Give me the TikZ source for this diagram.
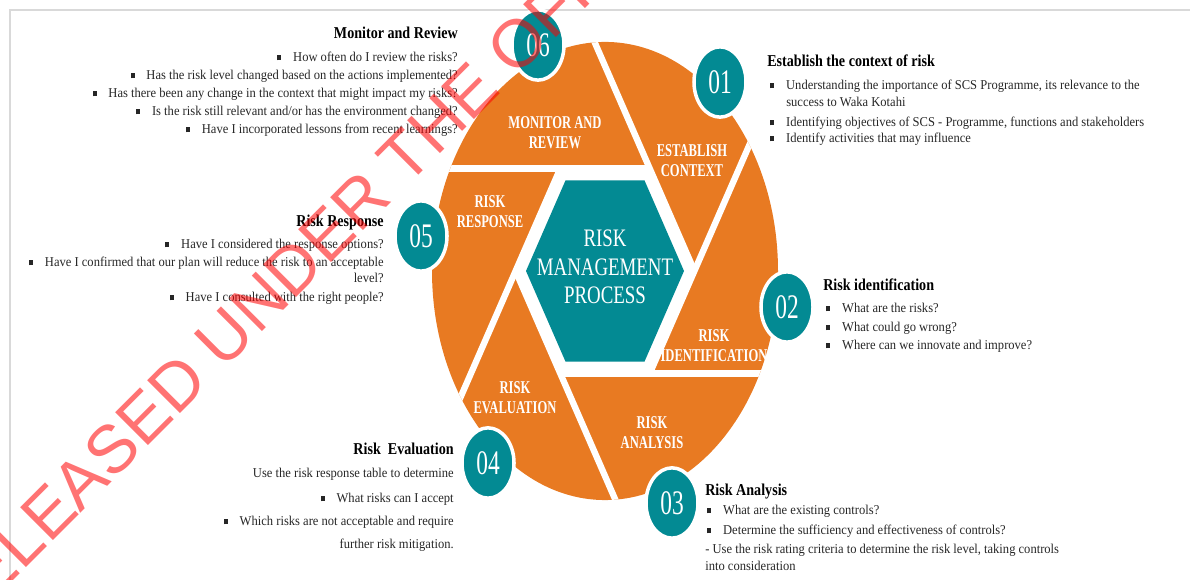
\documentclass[tikz,border=0pt]{standalone}
\usepackage{fontspec}
\setmainfont{Liberation Serif}[FakeStretch=0.93]
\newfontfamily\headfont{Liberation Serif}[FakeStretch=0.85]
\newfontfamily\segfont{Liberation Serif}[FakeStretch=0.70]
\newfontfamily\midfont{Liberation Serif}[FakeStretch=0.75]
\newfontfamily\numfont{Liberation Serif}[FakeStretch=0.68]
\newfontfamily\markfont{Liberation Sans}
\usetikzlibrary{shapes.geometric,calc}

\definecolor{rmorange}{RGB}{232,122,34}
\definecolor{rmteal}{RGB}{3,138,147}
\definecolor{framegray}{RGB}{217,217,217}

\newcommand{\bul}{\makebox[11.3pt][l]{\rule[1.2pt]{2.8pt}{3.5pt}}}

\tikzset{
  hd/.style={font=\headfont\bfseries\fontsize{11.8}{14}\selectfont, inner sep=0pt},
  txt/.style={font=\fontsize{9.6}{12.8}\selectfont, text=black!85, inner sep=0pt},
  seg/.style={font=\segfont\bfseries\fontsize{12.8}{14.2}\selectfont, text=white, align=center, inner sep=0pt},
  num/.style={ellipse, fill=rmteal, draw=white, line width=2.5pt, minimum width=37pt, minimum height=50pt,
    inner sep=0pt, text=white, font=\numfont\fontsize{24.5}{24.5}\selectfont},
}

\begin{document}
\begin{tikzpicture}[x=0.25mm, y=-0.25mm]
	\useasboundingbox (0,0) rectangle (1190,580);
	
	% marco
	\draw[framegray, line width=1.4pt] (10,580) -- (10,10) -- (1190,10);
	
	% diafragma naranja con hexagono central
	\begin{scope}[shift={(605,271)}, yscale=-1.324]
		\fill[rmorange] (0,0) circle (173);
		\begin{scope}
			\clip (0,0) circle (173);
			\foreach \a in {0,60,...,300}
				\draw[white, line width=4.5pt] (\a:89.4) -- ($(\a:89.4)!3!(\a+60:89.4)$);
		\end{scope}
		\fill[white] (0:89.4) \foreach \a in {60,120,...,300} { -- (\a:89.4) } -- cycle;
		\fill[rmteal] (0:79) \foreach \a in {60,120,...,300} { -- (\a:79) } -- cycle;
	\end{scope}
	
	% textos del centro y de los sectores
	\node[font=\midfont\fontsize{17.9}{20.2}\selectfont, text=white, align=center, inner sep=0pt] (core) at (605,267)
		{RISK\\MANAGEMENT\\PROCESS};
	\node[seg] (sMR) at (555,133) {MONITOR AND\\REVIEW};
	\node[seg] (sEC) at (692,161) {ESTABLISH\\CONTEXT};
	\node[seg] (sRR) at (490,212) {RISK\\RESPONSE};
	\node[seg] (sRI) at (714,346) {RISK\\IDENTIFICATION};
	\node[seg] (sRE) at (515,398) {RISK\\EVALUATION};
	\node[seg] (sRA) at (652,433) {RISK\\ANALYSIS};
	
	% circulos numerados
	\node[num] (n1) at (720,82) {01};
	\node[num] (n2) at (787,307) {02};
	\node[num] (n3) at (672,503) {03};
	\node[num] (n4) at (488,463) {04};
	\node[num] (n5) at (421,236) {05};
	\node[num] (n6) at (538,45) {06};
	
	% Monitor and Review
	\node[hd, anchor=base east] (mrh) at (458,39) {Monitor and Review};
	\node[txt, anchor=base east] (mr1) at (458,62) {\bul How often do I review the risks?};
	\node[txt, anchor=base east] (mr2) at (458,80) {\bul Has the risk level changed based on the actions implemented?};
	\node[txt, anchor=base east] (mr3) at (458,98) {\bul Has there been any change in the context that might impact my risks?};
	\node[txt, anchor=base east] (mr4) at (458,116) {\bul Is the risk still relevant and/or has the environment changed?};
	\node[txt, anchor=base east] (mr5) at (458,134) {\bul Have I incorporated lessons from recent learnings?};
	
	% Establish the context of risk
	\node[hd, anchor=base west] (ech) at (767,67) {Establish the context of risk};
	\node[txt, anchor=base west] (ec1) at (770,90) {\bul Understanding the importance of SCS Programme, its relevance to the};
	\node[txt, anchor=base west] (ec2) at (786,107) {success to Waka Kotahi};
	\node[txt, anchor=base west] (ec3) at (770,127) {\bul Identifying objectives of SCS - Programme, functions and stakeholders};
	\node[txt, anchor=base west] (ec4) at (770,143) {\bul Identify activities that may influence};
	
	% Risk identification
	\node[hd, anchor=base west] (rih) at (823,291) {Risk identification};
	\node[txt, anchor=base west] (ri1) at (826,313) {\bul What are the risks?};
	\node[txt, anchor=base west] (ri2) at (826,332) {\bul What could go wrong?};
	\node[txt, anchor=base west] (ri3) at (826,350) {\bul Where can we innovate and improve?};
	
	% Risk Analysis
	\node[hd, anchor=base west] (rah) at (705,496) {Risk Analysis};
	\node[txt, anchor=base west] (ra1) at (707,515) {\bul What are the existing controls?};
	\node[txt, anchor=base west] (ra2) at (707,535) {\bul Determine the sufficiency and effectiveness of controls?};
	\node[txt, anchor=base west] (ra3) at (705,554) {- Use the risk rating criteria to determine the risk level, taking controls};
	\node[txt, anchor=base west] (ra4) at (705,571) {into consideration};
	
	% Risk Evaluation
	\node[hd, anchor=base east] (reh) at (454,455) {Risk\ \ Evaluation};
	\node[txt, anchor=base east] (re1) at (454,478) {Use the risk response table to determine};
	\node[txt, anchor=base east] (re2) at (454,503) {\bul What risks can I accept};
	\node[txt, anchor=base east] (re3) at (454,526) {\bul Which risks are not acceptable and require};
	\node[txt, anchor=base east] (re4) at (454,549) {further risk mitigation.};
	
	% Risk Response
	\node[hd, anchor=base east] (rrh) at (384,227) {Risk Response};
	\node[txt, anchor=base east] (rr1) at (384,249) {\bul Have I considered the response options?};
	\node[txt, anchor=base east] (rr2) at (384,267) {\bul Have I confirmed that our plan will reduce the risk to an acceptable};
	\node[txt, anchor=base east] (rr3) at (384,283) {level?};
	\node[txt, anchor=base east] (rr4) at (384,302) {\bul Have I consulted with the right people?};
	
	% sello
	\node[font=\markfont\fontsize{48}{48}\selectfont, text=red, text opacity=0.55, rotate=45,
		anchor=base west, inner sep=0pt] (wm) at (-44,638) {RELEASED UNDER THE OFFICIAL INFORMATION ACT};
	
\end{tikzpicture}
\end{document}
